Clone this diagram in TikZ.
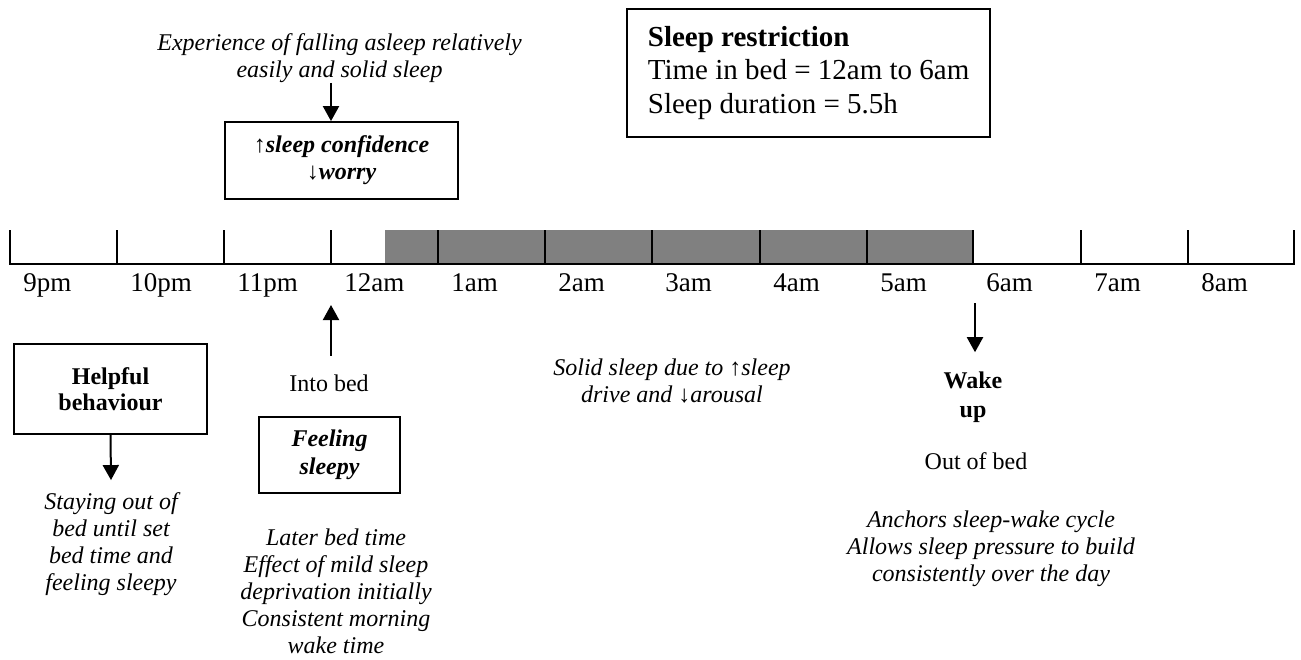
\documentclass[tikz,border=0pt]{standalone}
\usepackage{fontspec}
\setmainfont{Liberation Serif}
\usetikzlibrary{arrows.meta}
\definecolor{sleepgray}{RGB}{128,128,128}
\begin{document}
\begin{tikzpicture}[x=0.5pt,y=-0.5pt,
  txt/.style={inner sep=0pt, align=center, font=\fontsize{12}{13.5}\selectfont},
  note/.style={inner sep=0pt, align=center, font=\fontsize{12}{13.5}\selectfont\itshape},
  framed/.style={draw, line width=0.9pt, inner sep=0pt, align=center},
  arr/.style={-{Triangle[width=8pt,length=7.5pt]}, line width=1pt},
  hour/.style={inner sep=0pt, anchor=base west, font=\fontsize{13.5}{15}\selectfont},
  hourtick/.style={line width=1pt}]
\useasboundingbox (0,0) rectangle (1301,659);

% sleep window on the timeline
\fill[sleepgray] (385,230) rectangle (973,264);

% hour ticks and labels
\foreach \x/\l [count=\i] in {10/9pm,117/10pm,224/11pm,331/12am,438/1am,545/2am,652/3am,760/4am,867/5am,973/6am,1081/7am,1188/8am,1294/}{
  \coordinate (t\i) at (\x,264);
  \draw[hourtick] (\x,230) -- (t\i);
  \node[hour] (h\i) at (\x+13,291) {\l};
}
\draw[hourtick, line cap=rect] (t1) -- (t13);

% sleep restriction summary
\node[draw, line width=0.9pt, anchor=west, minimum height=64pt,
      inner xsep=10.5pt, inner ysep=0pt, align=left,
      font=\fontsize{14.5}{16.6}\selectfont] (restrict) at (626,73)
  {\textbf{Sleep restriction}\\Time in bed = 12am to 6am\\Sleep duration = 5.5h};

% confidence feedback above the timeline
\node[note] (exp) at (339.5,58) {Experience of falling asleep relatively\\easily and solid sleep};
\node[framed, minimum width=116.5pt, minimum height=38.5pt,
      font=\fontsize{12}{13.5}\selectfont\bfseries\itshape] (conf) at (341.5,160.5)
  {↑sleep confidence\\↓worry};
\draw[arr] (exp.south -| t4) -- (conf.north -| t4);

% going to bed
\node[framed, minimum width=96.5pt, minimum height=45pt,
      font=\fontsize{12}{13}\selectfont\bfseries] (helpful) at (110.5,389) {Helpful\\behaviour};
\node[note] (staying) at (111,544) {Staying out of\\bed until set\\bed time and\\feeling sleepy};
\draw[arr] (helpful.south) -- ([yshift=6pt]staying.north);

\node[txt, anchor=base] (intobed) at (329,391) {Into bed};
\coordinate (intotip) at (331,305);
\draw[arr] ([yshift=9pt]intobed.north -| intotip) -- (intotip);

\node[framed, minimum width=70.5pt, minimum height=38pt,
      font=\fontsize{12}{14}\selectfont\bfseries\itshape] (sleepy) at (329.5,455) {Feeling\\sleepy};
\node[note] (later) at (336,591) {Later bed time\\Effect of mild sleep\\deprivation initially\\Consistent morning\\wake time};

% during the night
\node[note] (solid) at (672,381) {Solid sleep due to ↑sleep\\drive and ↓arousal};

% getting up
\coordinate (waketop) at (975,303);
\node[txt, font=\fontsize{12}{14.5}\selectfont\bfseries] (wake) at (973,397) {Wake\\up};
\draw[arr] (waketop) -- ([yshift=9.5pt]wake.north -| waketop);
\node[txt, anchor=base] (outofbed) at (976,469) {Out of bed};
\node[note] (anchors) at (991,549) {Anchors sleep-wake cycle\\Allows sleep pressure to build\\consistently over the day};
\end{tikzpicture}
\end{document}
